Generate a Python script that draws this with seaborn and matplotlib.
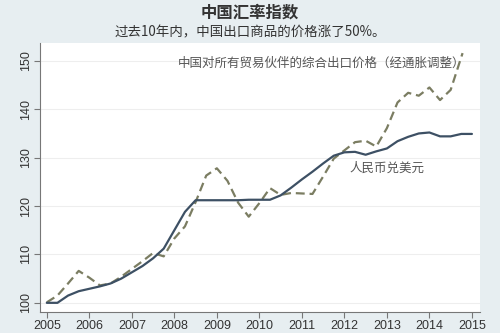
import numpy as np
import pandas as pd
import seaborn as sns
import matplotlib.pyplot as plt

# RMB vs USD (quarterly)
rmb_t = [2005.00, 2005.25, 2005.50, 2005.75, 2006.00, 2006.25, 2006.50, 2006.75,
         2007.00, 2007.25, 2007.50, 2007.75, 2008.00, 2008.25, 2008.50, 2008.75,
         2009.00, 2009.25, 2009.50, 2009.75, 2010.00, 2010.25, 2010.50, 2010.75,
         2011.00, 2011.25, 2011.50, 2011.75, 2012.00, 2012.25, 2012.50, 2012.75,
         2013.00, 2013.25, 2013.50, 2013.75, 2014.00, 2014.25, 2014.50, 2014.75,
         2015.00]
rmb_v = [100.0, 100.0, 101.5, 102.4, 102.9, 103.4, 104.0, 105.0,
         106.3, 107.6, 109.2, 111.2, 115.0, 118.8, 121.2, 121.2,
         121.2, 121.2, 121.2, 121.3, 121.3, 121.3, 122.2, 123.8,
         125.5, 127.1, 128.8, 130.4, 131.1, 131.2, 130.6, 131.3,
         131.9, 133.4, 134.3, 135.0, 135.2, 134.4, 134.4, 134.9,
         134.9]

# composite export price to all partners, inflation adjusted
exp_t = [2005.00, 2005.25, 2005.50, 2005.75, 2006.00, 2006.25, 2006.50, 2006.75,
         2007.00, 2007.25, 2007.50, 2007.75, 2008.00, 2008.25, 2008.50, 2008.75,
         2009.00, 2009.25, 2009.50, 2009.75, 2010.00, 2010.25, 2010.50, 2010.75,
         2011.00, 2011.25, 2011.50, 2011.75, 2012.00, 2012.25, 2012.50, 2012.75,
         2013.00, 2013.25, 2013.50, 2013.75, 2014.00, 2014.25, 2014.50, 2014.78]
exp_v = [100.1, 101.5, 104.0, 106.6, 105.2, 103.6, 104.0, 105.4,
         107.0, 108.6, 110.3, 109.6, 113.3, 115.8, 120.8, 126.3,
         127.8, 125.2, 120.7, 117.8, 120.6, 123.7, 122.3, 122.7,
         122.6, 122.5, 126.1, 129.8, 131.5, 133.2, 133.5, 132.3,
         136.1, 141.4, 143.4, 142.8, 144.5, 141.9, 144.0, 151.6]

years = list(range(2005, 2016))
yticks = [100, 110, 120, 130, 140, 150]

sns.set_theme(style="white")
plt.rcParams['font.family'] = ['Noto Sans CJK SC', 'DejaVu Sans']

bg = "#e7eef1"
fig = plt.figure(figsize=(5, 3.33), dpi=100, facecolor=bg)
ax = fig.add_axes([0.08, 0.063, 0.88, 0.808])
ax.set_facecolor("white")

for y in yticks:
    ax.axhline(y, color="#eeeeee", lw=0.8, zorder=0)

df_exp = pd.DataFrame({"t": exp_t, "v": exp_v})
df_rmb = pd.DataFrame({"t": rmb_t, "v": rmb_v})
sns.lineplot(data=df_exp, x="t", y="v", ax=ax, color="#7b7d62", lw=1.6,
             linestyle=(0, (4, 2.2)))
sns.lineplot(data=df_rmb, x="t", y="v", ax=ax, color="#3d5064", lw=1.6)

ax.set_xlim(2004.84, 2015.19)
ax.set_ylim(98.1, 153.7)
ax.set_xticks(years)
ax.set_yticks(yticks)
tick_font = ['Liberation Sans', 'DejaVu Sans']
ax.set_xticklabels([str(y) for y in years], fontsize=9, color="#333333",
                   family=tick_font)
ax.set_yticklabels([str(y) for y in yticks], fontsize=9, color="#333333",
                   rotation=90, va="center", family=tick_font)
ax.set_xlabel("")
ax.set_ylabel("")
ax.tick_params(axis="both", direction="out", length=4, width=0.8,
               color="#777777", pad=2)
ax.tick_params(left=True, bottom=True)
for s in ["top", "right"]:
    ax.spines[s].set_visible(False)
for s in ["left", "bottom"]:
    ax.spines[s].set_color("#777777")
    ax.spines[s].set_linewidth(0.8)

ax.text(2014.85, 149.4, "中国对所有贸易伙伴的综合出口价格（经通胀调整）",
        ha="right", va="center", fontsize=9, color="#555555")
ax.text(2013.0, 127.8, "人民币兑美元", ha="center", va="center",
        fontsize=9, color="#555555")

fig.text(0.5, 0.961, "中国汇率指数", ha="center", va="center",
         fontsize=11.8, fontweight="bold", color="#333333")
fig.text(0.5, 0.904, "过去10年内，中国出口商品的价格涨了50%。", ha="center",
         va="center", fontsize=9.7, color="#333333")

fig.savefig("out.png", dpi=100, facecolor=bg)
